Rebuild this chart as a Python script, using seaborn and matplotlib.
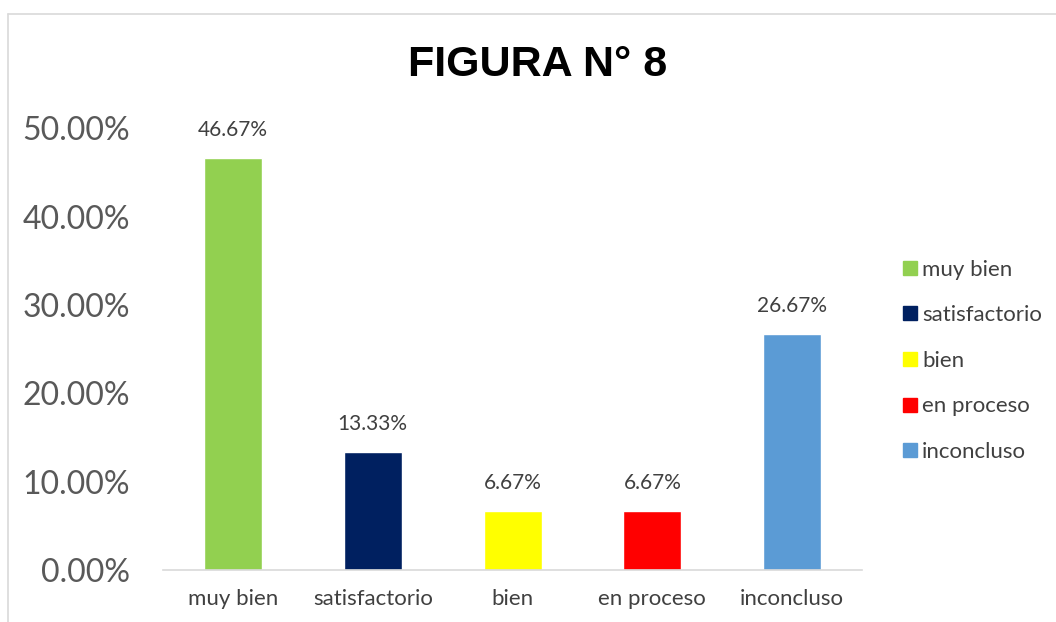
import matplotlib
matplotlib.use("Agg")
import matplotlib.pyplot as plt
import matplotlib.lines as mlines
import seaborn as sns
import pandas as pd
from matplotlib.ticker import PercentFormatter

categories = ["muy bien", "satisfactorio", "bien", "en proceso", "inconcluso"]
values = [0.4667, 0.1333, 0.0667, 0.0667, 0.2667]
colors = ["#92D050", "#002060", "#FFFF00", "#FF0000", "#5B9BD5"]

sns.set_style("white")
plt.rcParams["font.family"] = ["Lato", "DejaVu Sans"]

df = pd.DataFrame({"categoria": categories, "valor": values})

fig = plt.figure(figsize=(10.56, 6.22), dpi=100)
ax = fig.add_axes([0.1544, 0.0836, 0.6619, 0.7104])

sns.barplot(data=df, x="categoria", y="valor", hue="categoria",
            palette=colors, dodge=False, width=0.415, saturation=1,
            ax=ax, legend=False)

for cont in ax.containers:
    ax.bar_label(cont, labels=[f"{v * 100:.2f}%" for v in cont.datavalues],
                 padding=13, fontsize=15, color="#404040")

ax.set_ylim(0, 0.5)
ax.set_yticks([0, 0.1, 0.2, 0.3, 0.4, 0.5])
ax.yaxis.set_major_formatter(PercentFormatter(1.0, decimals=2))
ax.tick_params(axis="y", labelsize=23, colors="#595959", length=0, pad=24)
ax.tick_params(axis="x", labelsize=16, colors="#404040", length=0, pad=14)
ax.set_xlabel("")
ax.set_ylabel("")
for s in ["top", "right", "left"]:
    ax.spines[s].set_visible(False)
ax.spines["bottom"].set_color("#D9D9D9")
ax.spines["bottom"].set_linewidth(1.2)

handles = [mlines.Line2D([], [], marker="s", linestyle="", markersize=10,
                         markerfacecolor=c, markeredgecolor=c) for c in colors]
fig.legend(handles, categories, loc="center left", bbox_to_anchor=(0.832, 0.42),
           frameon=False, fontsize=16, labelcolor="#404040", handletextpad=0.05,
           handlelength=1.0, labelspacing=1.15)

fig.text(0.509, 0.895, "FIGURA N° 8", ha="center", va="center", fontsize=31,
         fontweight="bold", family=["Liberation Sans", "DejaVu Sans"], color="black")

# chart frame
fig.add_artist(mlines.Line2D([8 / 1056, 1], [1 - 14 / 622, 1 - 14 / 622],
                             color="#D9D9D9", lw=1.2, transform=fig.transFigure))
fig.add_artist(mlines.Line2D([8 / 1056, 8 / 1056], [0, 1 - 14 / 622],
                             color="#D9D9D9", lw=1.2, transform=fig.transFigure))

fig.savefig("out.png", dpi=100)
